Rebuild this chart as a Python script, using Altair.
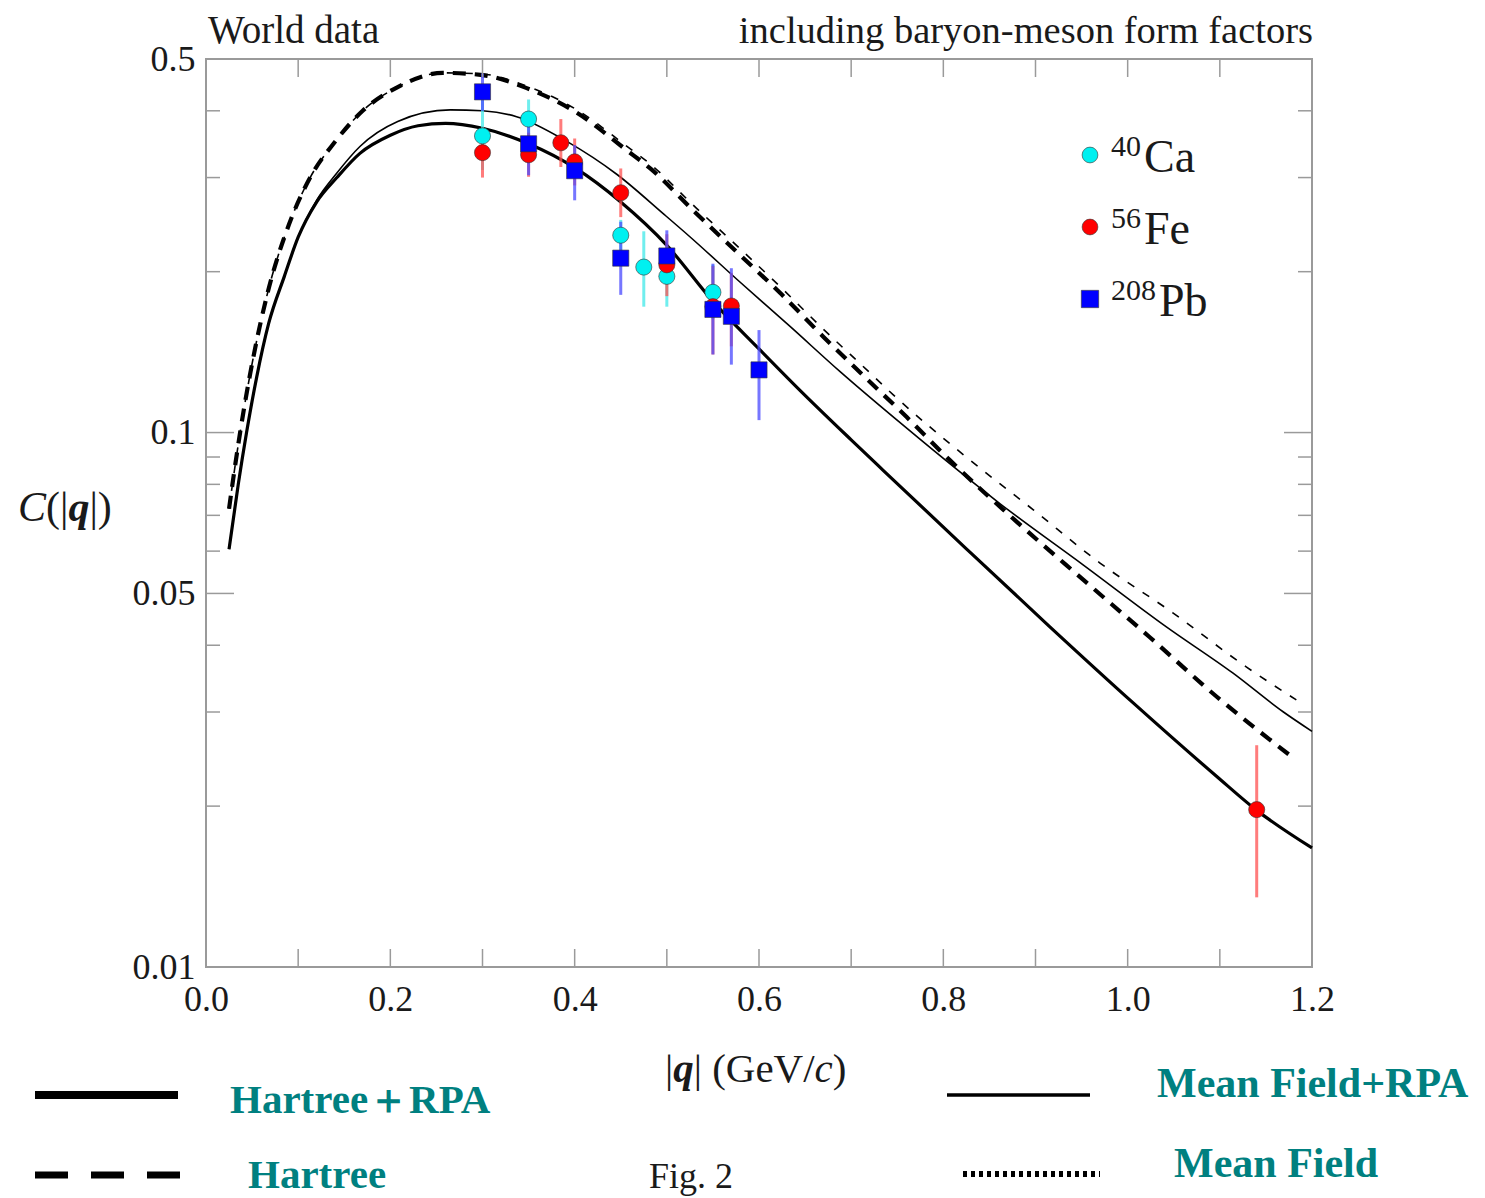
import altair as alt
import pandas as pd

# ---------------- data ----------------
# Hartree+RPA (thick solid)
hrpa_q = [0.025, 0.035, 0.044, 0.055, 0.068, 0.085, 0.1, 0.12, 0.142, 0.167, 0.2, 0.23, 0.26, 0.3,
          0.35, 0.4, 0.45, 0.5, 0.55, 0.6, 0.645, 0.7, 0.735, 0.825, 0.915, 1.006, 1.097, 1.139, 1.2]
hrpa_c = [0.0605, 0.08, 0.1, 0.127, 0.16, 0.196, 0.232, 0.27, 0.3, 0.333, 0.36, 0.375, 0.379, 0.371,
          0.347, 0.313, 0.27, 0.224, 0.176, 0.1434, 0.1197, 0.0969, 0.0849, 0.0606, 0.0434, 0.0312,
          0.0227, 0.0197, 0.0167]

# Mean Field+RPA (thin solid)
mrpa_q = [0.025, 0.035, 0.044, 0.055, 0.068, 0.085, 0.1, 0.12, 0.142, 0.167, 0.208, 0.265, 0.3, 0.337,
          0.391, 0.446, 0.497, 0.525, 0.579, 0.634, 0.688, 0.757, 0.862, 0.952, 1.042, 1.114, 1.169, 1.2]
mrpa_c = [0.0605, 0.08, 0.1, 0.127, 0.16, 0.196, 0.232, 0.272, 0.306, 0.343, 0.382, 0.4015, 0.400, 0.390,
          0.351, 0.304, 0.256, 0.2325, 0.1915, 0.1578, 0.130, 0.103, 0.0735, 0.0565, 0.0433, 0.0355,
          0.0300, 0.0276]

# Hartree (thick dashed)
har_q = [0.025, 0.03, 0.037, 0.048, 0.067, 0.09, 0.113, 0.14, 0.17, 0.208, 0.257, 0.298, 0.348, 0.401,
         0.456, 0.482, 0.532, 0.578, 0.625, 0.67, 0.717, 0.76, 0.807, 0.88, 0.952, 1.024, 1.097, 1.176]
har_c = [0.072, 0.083, 0.1, 0.129, 0.183, 0.245, 0.3, 0.35, 0.4, 0.443, 0.471, 0.467, 0.441, 0.398,
         0.338, 0.312, 0.257, 0.216, 0.181, 0.151, 0.126, 0.107, 0.0888, 0.068, 0.053, 0.0414, 0.032, 0.0249]

# Mean Field (thin dashed)
mf_q = [0.025, 0.03, 0.037, 0.048, 0.067, 0.09, 0.113, 0.14, 0.17, 0.208, 0.257, 0.298, 0.348, 0.401,
        0.456, 0.482, 0.532, 0.578, 0.625, 0.67, 0.717, 0.746, 0.818, 0.898, 0.97, 1.049, 1.129, 1.183]
mf_c = [0.072, 0.083, 0.1, 0.129, 0.183, 0.245, 0.3, 0.35, 0.4, 0.443, 0.471, 0.469, 0.445, 0.403,
        0.344, 0.318, 0.263, 0.222, 0.186, 0.156, 0.131, 0.1175, 0.092, 0.0716, 0.057, 0.046, 0.0364, 0.0316]

# World data points
ca_q = [0.30, 0.35, 0.45, 0.475, 0.50, 0.55]
ca_c = [0.359, 0.386, 0.234, 0.204, 0.196, 0.183]
ca_lo = [0.310, 0.355, 0.219, 0.172, 0.172, 0.163]
ca_hi = [0.419, 0.420, 0.250, 0.238, 0.223, 0.206]

fe_q = [0.30, 0.35, 0.385, 0.40, 0.45, 0.50, 0.55, 0.57, 1.14]
fe_c = [0.334, 0.331, 0.3485, 0.321, 0.281, 0.206, 0.172, 0.1725, 0.0197]
fe_lo = [0.300, 0.301, 0.314, 0.290, 0.253, 0.180, 0.140, 0.145, 0.0135]
fe_hi = [0.372, 0.364, 0.386, 0.355, 0.312, 0.235, 0.205, 0.199, 0.026]

pb_q = [0.30, 0.35, 0.40, 0.45, 0.50, 0.55, 0.57, 0.60]
pb_c = [0.434, 0.347, 0.309, 0.212, 0.214, 0.170, 0.165, 0.131]
pb_lo = [0.400, 0.303, 0.272, 0.181, 0.191, 0.140, 0.134, 0.1055]
pb_hi = [0.470, 0.397, 0.345, 0.248, 0.239, 0.207, 0.203, 0.1555]

nuclei = ["40Ca", "56Fe", "208Pb"]
mass_numbers = ["40", "56", "208"]
elements = ["Ca", "Fe", "Pb"]
nuc_colors = ["#00f0f0", "#ff0000", "#0000ff"]
bar_colors = ["#40e8e8", "#ff5050", "#4848ff"]
nuc_shapes = ["circle", "circle", "square"]

x_labels = [0.0, 0.2, 0.4, 0.6, 0.8, 1.0, 1.2]
x_ticks = [0.0, 0.1, 0.2, 0.3, 0.4, 0.5, 0.6, 0.7, 0.8, 0.9, 1.0, 1.1, 1.2]
y_major = [0.01, 0.05, 0.1, 0.5]
y_minor = [0.02, 0.03, 0.04, 0.06, 0.07, 0.08, 0.09, 0.2, 0.3, 0.4]

# ---------------- chart ----------------
W, H = 1106, 908
SERIF = "Liberation Serif"
TEAL = "#008080"
INK = "#1a1a1a"
FRAME = "#9a9a9a"

xscale = alt.Scale(domain=[0, 1.2], nice=False, zero=False)
yscale = alt.Scale(type="log", domain=[0.01, 0.5], nice=False)
xaxis = alt.Axis(values=x_labels, format=".1f", title=None, ticks=False, tickSize=0, domain=False,
                 grid=False, labelFontSize=36, labelPadding=15, labelFlush=False, labelFont=SERIF,
                 labelColor=INK)
yaxis = alt.Axis(values=y_major, format=".2~f", title=None, ticks=False, tickSize=0, domain=False,
                 grid=False, labelFontSize=36, labelPadding=11, labelFlush=False, labelFont=SERIF,
                 labelColor=INK)

X = alt.X("q:Q", scale=xscale, axis=xaxis)
Y = alt.Y("C:Q", scale=yscale, axis=yaxis)


def curve(q, c, **kw):
    return alt.Chart(pd.DataFrame({"q": q, "C": c})).mark_line(
        interpolate="monotone", color="black", **kw).encode(x=X, y=Y)


layers = []
layers.append(curve(hrpa_q, hrpa_c, strokeWidth=3.2))
layers.append(curve(mrpa_q, mrpa_c, strokeWidth=1.6))
layers.append(curve(har_q, har_c, strokeWidth=4.2, strokeDash=[13, 9]))
layers.append(curve(mf_q, mf_c, strokeWidth=1.6, strokeDash=[8, 10]))

# error bars
for qs, lo, hi, col in [(ca_q, ca_lo, ca_hi, bar_colors[0]),
                        (fe_q, fe_lo, fe_hi, bar_colors[1]),
                        (pb_q, pb_lo, pb_hi, bar_colors[2])]:
    layers.append(
        alt.Chart(pd.DataFrame({"q": qs, "lo": lo, "hi": hi})).mark_rule(
            color=col, strokeWidth=3, opacity=0.75).encode(
            x=X, y=alt.Y("lo:Q", scale=yscale, axis=yaxis), y2="hi:Q"))

pts = pd.concat([
    pd.DataFrame({"q": ca_q, "C": ca_c, "nucleus": nuclei[0]}),
    pd.DataFrame({"q": fe_q, "C": fe_c, "nucleus": nuclei[1]}),
    pd.DataFrame({"q": pb_q, "C": pb_c, "nucleus": nuclei[2]}),
], ignore_index=True)

layers.append(
    alt.Chart(pts).mark_point(opacity=1, fillOpacity=1, stroke="#333333", strokeWidth=0.6,
                              size=260).encode(
        x=X, y=Y,
        fill=alt.Fill("nucleus:N", scale=alt.Scale(domain=nuclei, range=nuc_colors), legend=None),
        shape=alt.Shape("nucleus:N", scale=alt.Scale(domain=nuclei, range=nuc_shapes), legend=None),
    ))

# inward tick marks (all four sides)
layers.append(alt.Chart(pd.DataFrame({"q": x_ticks})).mark_rule(color=FRAME, strokeWidth=1.5).encode(
    x=X, y=alt.value(H), y2=alt.value(H - 18)))
layers.append(alt.Chart(pd.DataFrame({"q": x_ticks})).mark_rule(color=FRAME, strokeWidth=1.5).encode(
    x=X, y=alt.value(0), y2=alt.value(18)))
for vals, ln in [(y_major, 28), (y_minor, 14)]:
    layers.append(alt.Chart(pd.DataFrame({"C": vals})).mark_rule(color=FRAME, strokeWidth=1.5).encode(
        y=Y, x=alt.value(0), x2=alt.value(ln)))
    layers.append(alt.Chart(pd.DataFrame({"C": vals})).mark_rule(color=FRAME, strokeWidth=1.5).encode(
        y=Y, x=alt.value(W), x2=alt.value(W - ln)))


def label(txt, x, y, size=38, align="left", weight="normal", style="normal", color=INK, font=SERIF):
    return alt.Chart(pd.DataFrame({"t": [txt]})).mark_text(
        align=align, baseline="alphabetic", fontSize=size, fontWeight=weight, fontStyle=style,
        color=color, font=font).encode(x=alt.value(x), y=alt.value(y), text="t:N")


# in-plot legend of the nuclei (symbol, superscript mass number, element)
leg_x, leg_y0, leg_dy = 884, 96, 72
for i in range(3):
    cy = leg_y0 + i * leg_dy
    layers.append(alt.Chart(pd.DataFrame({"a": [0]})).mark_point(
        shape=nuc_shapes[i], filled=True, fill=nuc_colors[i], stroke="#333333", strokeWidth=0.6,
        opacity=1, size=250 if nuc_shapes[i] == "circle" else 300).encode(
        x=alt.value(leg_x), y=alt.value(cy)))
    layers.append(label(mass_numbers[i], leg_x + 21, cy + 1, size=30))
    sup_w = 15 * len(mass_numbers[i])
    layers.append(label(elements[i], leg_x + 24 + sup_w, cy + 17, size=46))

# header texts
layers.append(label("World data", 2, -16, size=39))
layers.append(label("including baryon-meson form factors", 1107, -16, size=38.5, align="right"))

# x-axis title |q| (GeV/c)
layers.append(label("|", 459, 1023, size=41))
layers.append(label("q", 467.2, 1023, size=41, weight="bold", style="italic"))
layers.append(label("| (GeV/", 487.7, 1023, size=41))
layers.append(label("c", 608.6, 1023, size=41, style="italic"))
layers.append(label(")", 626.8, 1023, size=41))

# y-axis title C(|q|)
layers.append(label("C", -188, 462, size=42, style="italic"))
layers.append(label("(|", -160, 462, size=42))
layers.append(label("q", -137.6, 462, size=42, weight="bold", style="italic"))
layers.append(label("|)", -116.6, 462, size=42))

# bottom legend of the curves
one = pd.DataFrame({"a": [0]})
layers.append(alt.Chart(one).mark_rule(color="black", strokeWidth=8).encode(
    x=alt.value(-171), x2=alt.value(-28), y=alt.value(1036)))
layers.append(alt.Chart(one).mark_rule(color="black", strokeWidth=7, strokeDash=[33, 23]).encode(
    x=alt.value(-171), x2=alt.value(-26), y=alt.value(1116)))
layers.append(alt.Chart(one).mark_rule(color="black", strokeWidth=3.5).encode(
    x=alt.value(741), x2=alt.value(884), y=alt.value(1036)))
layers.append(alt.Chart(one).mark_rule(color="black", strokeWidth=6, strokeDash=[4, 4]).encode(
    x=alt.value(757), x2=alt.value(894), y=alt.value(1115)))

layers.append(label("Hartree＋RPA", 24, 1054, size=41, weight="bold", color=TEAL))
layers.append(label("Hartree", 42, 1129, size=41, weight="bold", color=TEAL))
layers.append(label("Mean Field+RPA", 951, 1038, size=42, weight="bold", color=TEAL))
layers.append(label("Mean Field", 968, 1118, size=42, weight="bold", color=TEAL))
layers.append(label("Fig. 2", 443, 1129, size=36))

chart = alt.layer(*layers).properties(
    width=W, height=H,
    padding={"left": 198, "top": 51, "right": 163, "bottom": 231},
    autosize=alt.AutoSizeParams(type="none"),
    background="white",
).configure_view(stroke=FRAME, strokeWidth=2)

chart.save("out.html", embed_options={"renderer": "svg", "actions": False})
